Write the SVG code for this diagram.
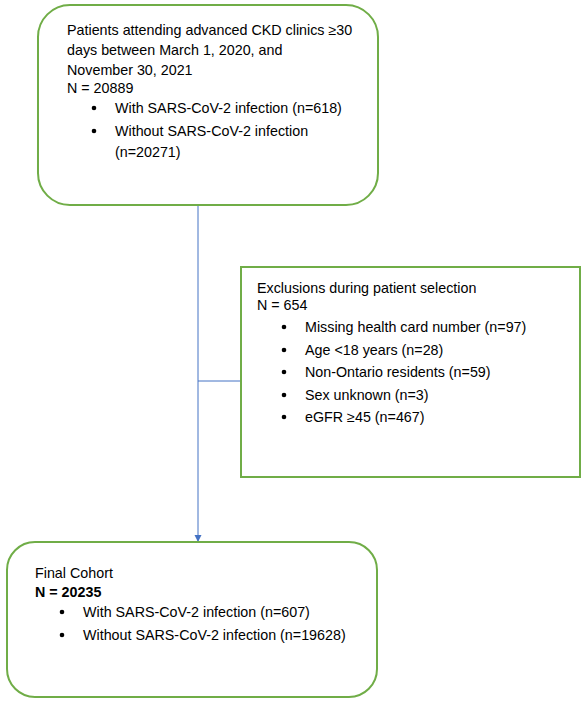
<svg xmlns="http://www.w3.org/2000/svg" width="586" height="704" viewBox="0 0 586 704">
<style>
.box{fill:#fff;stroke:#70AD47;stroke-width:2}
.t{font-family:"Liberation Sans",Arial,sans-serif;font-size:14.3px;fill:#000}
.b{font-weight:bold}
.dot{fill:#000}
.conn{stroke:#4472C4;stroke-width:1;fill:none}
</style>
<defs>
<marker id="arr" viewBox="0 0 10 10" refX="10" refY="5" markerWidth="7" markerHeight="8" markerUnits="userSpaceOnUse" orient="auto">
<path d="M0,0 L10,5 L0,10 z" fill="#4472C4"/>
</marker>
</defs>
<g id="connectors">
<line class="conn" x1="198" y1="205" x2="198" y2="542" marker-end="url(#arr)"/>
<line class="conn" x1="198" y1="381" x2="241" y2="381"/>
</g>
<g id="node-start">
<rect class="box" x="38" y="5" width="340" height="200" rx="32" ry="32"/>
<text class="t" x="67" y="35">Patients attending advanced CKD clinics ≥30</text>
<text class="t" x="67" y="55">days between March 1, 2020, and</text>
<text class="t" x="67" y="75">November 30, 2021</text>
<text class="t" x="67" y="93">N = 20889</text>
<circle class="dot" cx="94" cy="108" r="2.3"/>
<text class="t" x="115" y="113">With SARS-CoV-2 infection (n=618)</text>
<circle class="dot" cx="94" cy="131" r="2.3"/>
<text class="t" x="115" y="136">Without SARS-CoV-2 infection</text>
<text class="t" x="115" y="157">(n=20271)</text>
</g>
<g id="node-exclusions">
<rect class="box" x="241" y="267" width="339" height="210"/>
<text class="t" x="257" y="293">Exclusions during patient selection</text>
<text class="t" x="257" y="310">N = 654</text>
<circle class="dot" cx="284" cy="327" r="2.3"/>
<text class="t" x="305" y="332">Missing health card number (n=97)</text>
<circle class="dot" cx="284" cy="350" r="2.3"/>
<text class="t" x="305" y="355">Age &lt;18 years (n=28)</text>
<circle class="dot" cx="284" cy="372" r="2.3"/>
<text class="t" x="305" y="377">Non-Ontario residents (n=59)</text>
<circle class="dot" cx="284" cy="395" r="2.3"/>
<text class="t" x="305" y="400">Sex unknown  (n=3)</text>
<circle class="dot" cx="284" cy="417" r="2.3"/>
<text class="t" x="305" y="422">eGFR ≥45 (n=467)</text>
</g>
<g id="node-final">
<rect class="box" x="7" y="542" width="370" height="155" rx="28" ry="28"/>
<text class="t" x="35" y="578">Final Cohort</text>
<text class="t b" x="35" y="597">N = 20235</text>
<circle class="dot" cx="62" cy="612" r="2.3"/>
<text class="t" x="83" y="617">With SARS-CoV-2 infection (n=607)</text>
<circle class="dot" cx="62" cy="635" r="2.3"/>
<text class="t" x="83" y="640">Without SARS-CoV-2 infection (n=19628)</text>
</g>
</svg>
